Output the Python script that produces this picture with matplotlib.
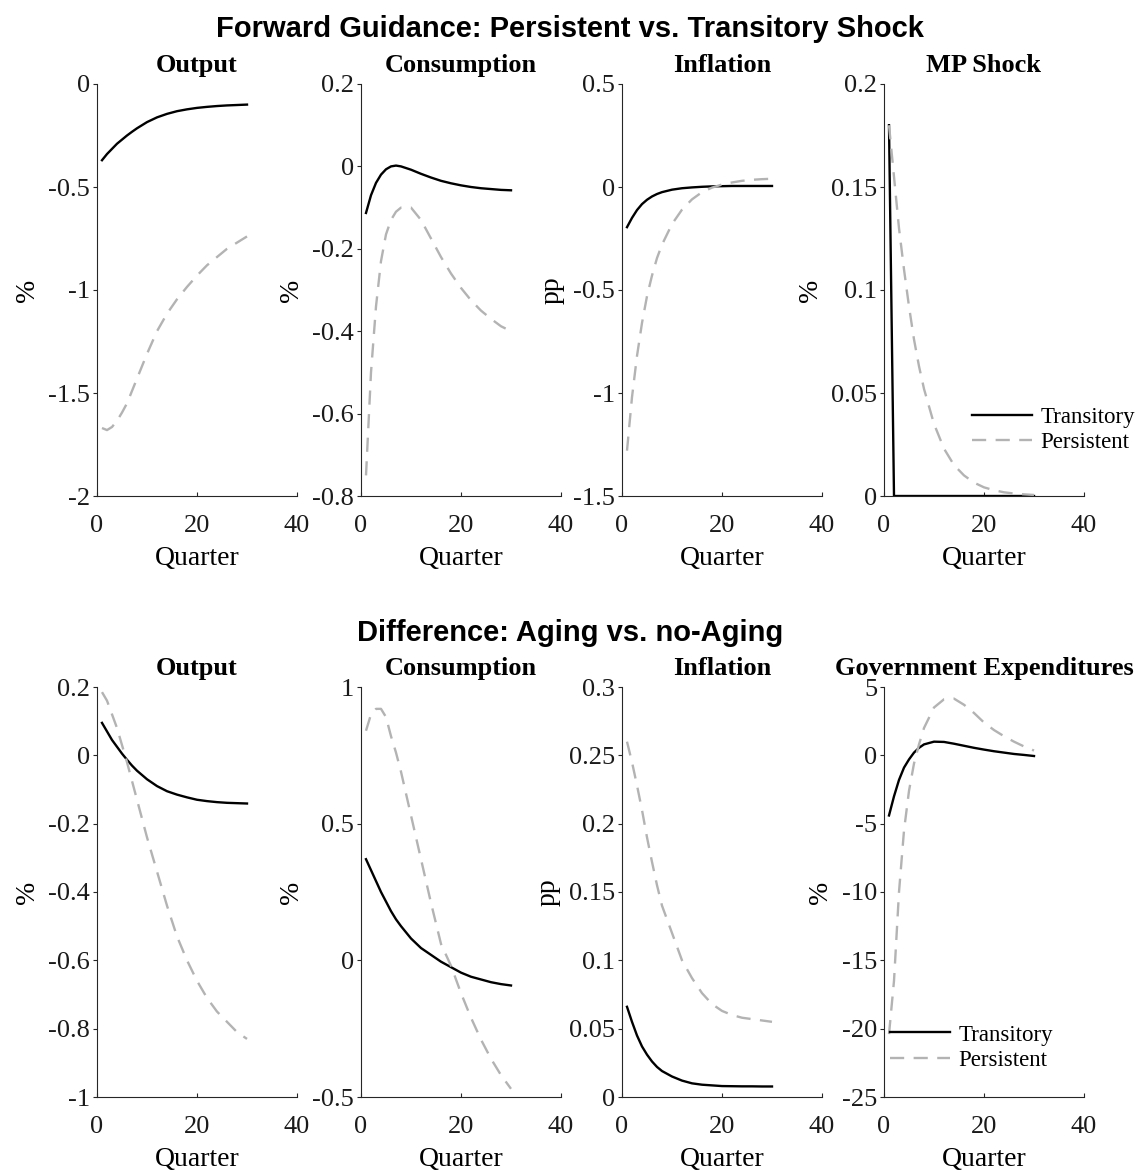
import numpy as np
import matplotlib
matplotlib.use("Agg")
import matplotlib.pyplot as plt
from matplotlib.ticker import FuncFormatter

plt.rcParams['font.family'] = ['Liberation Serif', 'DejaVu Serif']
plt.rcParams['axes.unicode_minus'] = False

# quarters at which the impulse responses are stored
quarters = [1, 2, 3, 4, 5, 6, 7, 8, 10, 12, 14, 16, 18, 20, 22, 24, 26, 28, 30]

# --- forward guidance: persistent vs transitory shock ---
fg_output_trans = [-0.37, -0.34, -0.315, -0.29, -0.27, -0.25, -0.232, -0.215, -0.185, -0.162,
                   -0.145, -0.132, -0.123, -0.116, -0.111, -0.107, -0.104, -0.102, -0.10]
fg_output_pers = [-1.67, -1.68, -1.665, -1.635, -1.595, -1.55, -1.49, -1.43, -1.31, -1.20,
                  -1.115, -1.045, -0.985, -0.93, -0.88, -0.84, -0.80, -0.77, -0.74]

fg_cons_trans = [-0.113, -0.07, -0.04, -0.02, -0.007, 0.0, 0.002, 0.0, -0.008, -0.018,
                 -0.027, -0.035, -0.041, -0.046, -0.05, -0.053, -0.055, -0.057, -0.058]
fg_cons_pers = [-0.75, -0.50, -0.34, -0.23, -0.165, -0.13, -0.11, -0.10, -0.10, -0.13,
                -0.175, -0.22, -0.26, -0.295, -0.325, -0.35, -0.37, -0.388, -0.40]

fg_infl_trans = [-0.195, -0.15, -0.112, -0.083, -0.062, -0.046, -0.034, -0.025, -0.013, -0.006,
                 -0.002, 0.001, 0.003, 0.004, 0.005, 0.005, 0.005, 0.005, 0.005]
fg_infl_pers = [-1.28, -1.02, -0.82, -0.66, -0.53, -0.43, -0.345, -0.28, -0.18, -0.11,
                -0.06, -0.025, -0.003, 0.012, 0.022, 0.03, 0.035, 0.038, 0.04]

fg_mp_trans = [0.18, 0.0, 0.0, 0.0, 0.0, 0.0, 0.0, 0.0, 0.0, 0.0,
               0.0, 0.0, 0.0, 0.0, 0.0, 0.0, 0.0, 0.0, 0.0]
fg_mp_pers = [0.18, 0.155, 0.13, 0.11, 0.092, 0.076, 0.063, 0.052, 0.035, 0.023,
              0.015, 0.01, 0.0065, 0.0042, 0.0028, 0.0018, 0.0012, 0.0008, 0.0005]

# --- difference: aging vs no-aging ---
df_output_trans = [0.095, 0.07, 0.045, 0.025, 0.005, -0.013, -0.03, -0.045, -0.07, -0.09,
                   -0.105, -0.115, -0.123, -0.13, -0.134, -0.137, -0.139, -0.14, -0.141]
df_output_pers = [0.185, 0.16, 0.12, 0.08, 0.03, -0.02, -0.075, -0.13, -0.24, -0.34,
                  -0.44, -0.53, -0.60, -0.66, -0.71, -0.75, -0.78, -0.81, -0.83]

df_cons_trans = [0.37, 0.33, 0.29, 0.25, 0.215, 0.18, 0.15, 0.125, 0.08, 0.045,
                 0.02, -0.005, -0.025, -0.045, -0.06, -0.07, -0.08, -0.087, -0.092]
df_cons_pers = [0.84, 0.90, 0.92, 0.92, 0.89, 0.82, 0.76, 0.69, 0.53, 0.37,
                0.21, 0.06, -0.02, -0.12, -0.21, -0.29, -0.36, -0.42, -0.47]

df_infl_trans = [0.066, 0.055, 0.045, 0.037, 0.031, 0.026, 0.022, 0.019, 0.015, 0.012,
                 0.010, 0.009, 0.0085, 0.008, 0.0079, 0.0078, 0.0078, 0.0077, 0.0077]
df_infl_pers = [0.26, 0.245, 0.228, 0.21, 0.19, 0.172, 0.155, 0.14, 0.12, 0.1,
                0.087, 0.076, 0.068, 0.063, 0.06, 0.058, 0.057, 0.056, 0.055]

df_gov_trans = [-4.4, -3.0, -1.8, -0.9, -0.3, 0.2, 0.55, 0.8, 1.0, 0.98,
                0.85, 0.7, 0.55, 0.42, 0.3, 0.2, 0.1, 0.03, -0.05]
df_gov_pers = [-20.4, -16.5, -10.0, -5.5, -2.6, -0.6, 0.8, 2.0, 3.5, 4.1,
               4.15, 3.7, 3.1, 2.4, 1.85, 1.4, 1.0, 0.65, 0.35]

row_titles = ["Forward Guidance: Persistent vs. Transitory Shock",
              "Difference: Aging vs. no-Aging"]

panels = [
    [("Output", "%", fg_output_trans, fg_output_pers, (-2, 0), [-2, -1.5, -1, -0.5, 0]),
     ("Consumption", "%", fg_cons_trans, fg_cons_pers, (-0.8, 0.2), [-0.8, -0.6, -0.4, -0.2, 0, 0.2]),
     ("Inflation", "pp", fg_infl_trans, fg_infl_pers, (-1.5, 0.5), [-1.5, -1, -0.5, 0, 0.5]),
     ("MP Shock", "%", fg_mp_trans, fg_mp_pers, (0, 0.2), [0, 0.05, 0.1, 0.15, 0.2])],
    [("Output", "%", df_output_trans, df_output_pers, (-1, 0.2), [-1, -0.8, -0.6, -0.4, -0.2, 0, 0.2]),
     ("Consumption", "%", df_cons_trans, df_cons_pers, (-0.5, 1), [-0.5, 0, 0.5, 1]),
     ("Inflation", "pp", df_infl_trans, df_infl_pers, (0, 0.3), [0, 0.05, 0.1, 0.15, 0.2, 0.25, 0.3]),
     ("Government Expenditures", "%", df_gov_trans, df_gov_pers, (-25, 5), [-25, -20, -15, -10, -5, 0, 5])],
]

W, H = 1140, 1172
fig = plt.figure(figsize=(W / 100, H / 100), dpi=100)

lefts = [97, 361, 622, 884]
rows = [(84, 496), (687, 1097)]
axw = 200
spine_col = '#262626'
fmt = FuncFormatter(lambda v, p: '%g' % v)

for r, (top, bot) in enumerate(rows):
    for c, (name, unit, trans, pers, ylim, yt) in enumerate(panels[r]):
        ax = fig.add_axes([lefts[c] / W, 1 - bot / H, axw / W, (bot - top) / H])
        ax.plot(quarters, trans, color='black', lw=1.7, label='Transitory')
        ax.plot(quarters, pers, color='#b3b3b3', lw=1.7, dashes=(6, 4), label='Persistent')
        ax.set_xlim(0, 40)
        ax.set_ylim(*ylim)
        ax.set_xticks([0, 20, 40])
        ax.set_yticks(yt)
        ax.yaxis.set_major_formatter(fmt)
        for s in ['top', 'right']:
            ax.spines[s].set_visible(False)
        for s in ['left', 'bottom']:
            ax.spines[s].set_color(spine_col)
            ax.spines[s].set_linewidth(0.8)
        ax.tick_params(axis='y', direction='out', length=3, width=0.8, colors=spine_col,
                       labelsize=19, labelcolor='#1a1a1a', pad=2)
        ax.tick_params(axis='x', direction='in', length=3, width=0.8, colors=spine_col,
                       labelsize=19, labelcolor='#1a1a1a', pad=14)
        ax.set_title(name, fontsize=19, fontweight='bold', pad=8.5)
        ax.set_xlabel("Quarter", fontsize=20, labelpad=6)
        ax.set_ylabel(unit, fontsize=20, labelpad=6)
        if c == 3:
            if r == 0:
                anchor = (0.44, 0.16)
            else:
                anchor = (0.03, 0.12)
            ax.legend(loc='center left', bbox_to_anchor=anchor, frameon=False,
                      fontsize=16.5, handlelength=2.6, handletextpad=0.4,
                      labelspacing=0.2, borderaxespad=0, borderpad=0)

for r, ypix in enumerate([29, 633]):
    fig.text(0.5, 1 - ypix / H, row_titles[r], ha='center', va='center',
             fontsize=21, fontweight='bold', family=['Liberation Sans', 'DejaVu Sans'])

fig.savefig("out.png", dpi=100)
